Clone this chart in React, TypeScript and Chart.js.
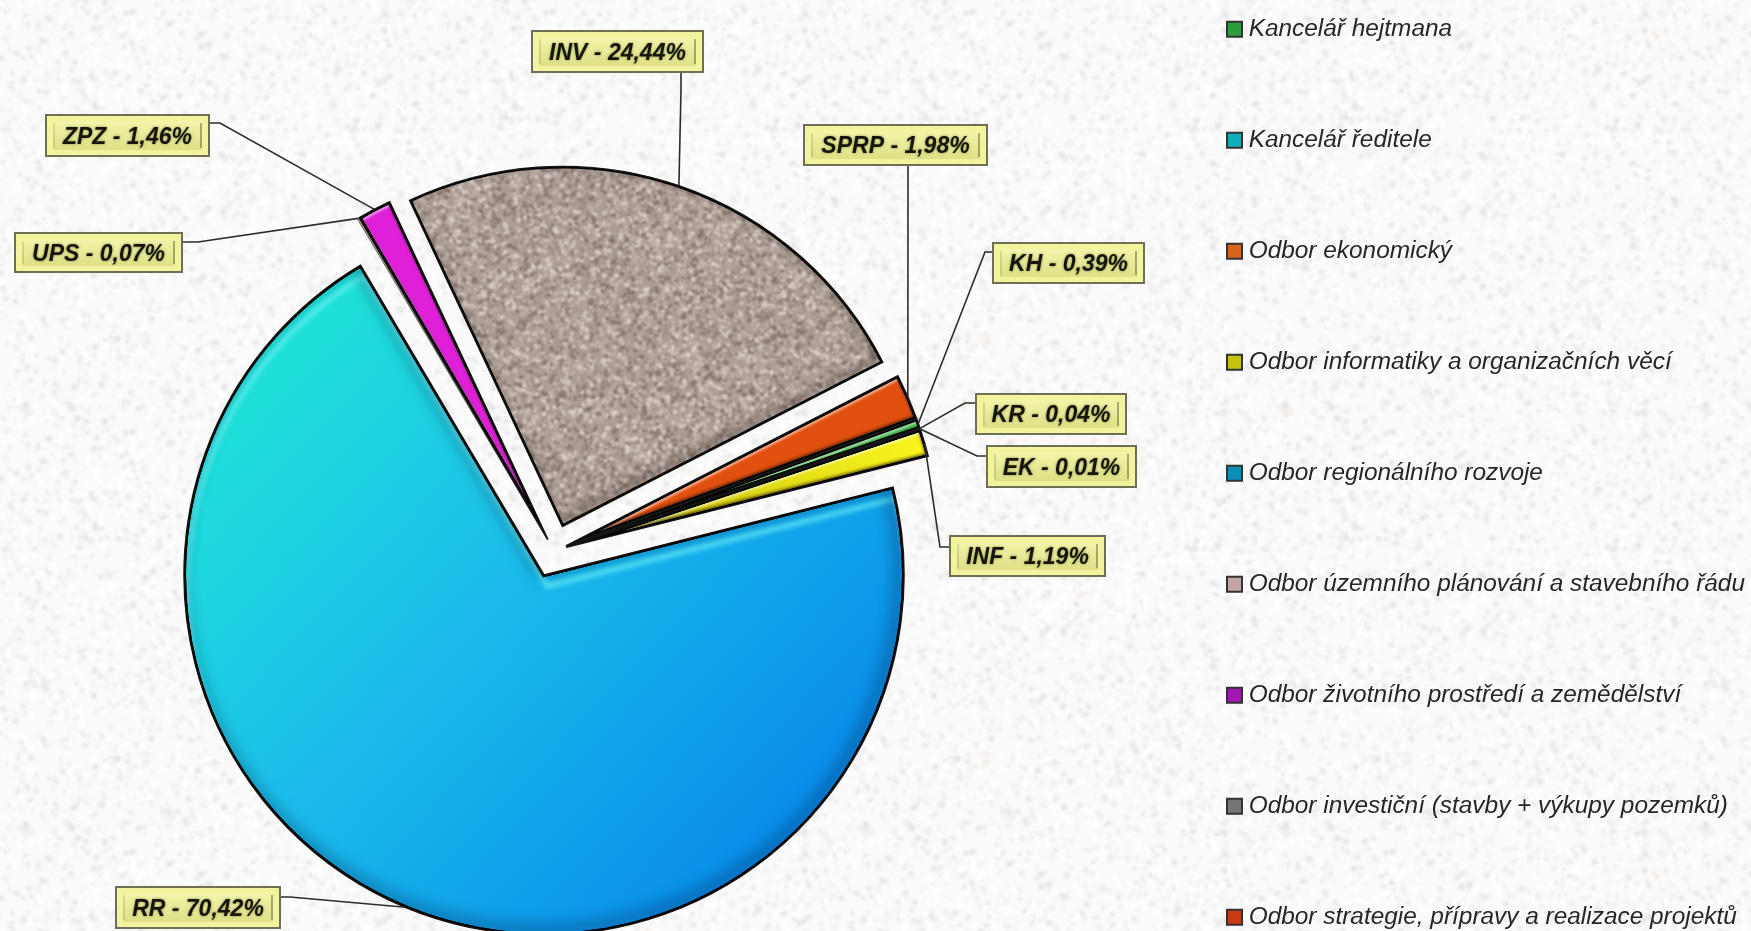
import React, { useEffect, useRef } from "react";
import { Chart, registerables } from "chart.js";

Chart.register(...registerables);

// ---- data
const departments = [
  "Kancelář hejtmana",
  "Kancelář ředitele",
  "Odbor ekonomický",
  "Odbor informatiky a organizačních věcí",
  "Odbor regionálního rozvoje",
  "Odbor územního plánování a stavebního řádu",
  "Odbor životního prostředí a zemědělství",
  "Odbor investiční (stavby + výkupy pozemků)",
  "Odbor strategie, přípravy a realizace projektů",
];
const codes = ["KH", "KR", "EK", "INF", "RR", "UPS", "ZPZ", "INV", "SPRP"];
const shares = [0.39, 0.04, 0.01, 1.19, 70.42, 0.07, 1.46, 24.44, 1.98];

// ---- styles
const legendColors = ["#2c9c3c", "#12aeb8", "#d8641c", "#c4c410", "#0a90b8", "#c4a4a4", "#a018b0", "#777474", "#c83a14"];
const sliceColors = ["#35ad45", "#14b0b8", "#e0601a", "#f2ee14", "#1aa8e8", "#c8a8a8", "#e020d8", "#b0a096", "#e2500f"];
// slice pull-out and rim growth, in pixels
const explode = [13, 13, 13, 13, 26, 13, 13, 26, 13];
const rimGrow = [13, 13, 13, 13, 0, 13, 13, 0, 13];
// callout boxes: x, y, w, h, elbow x, elbow y, box-side x, box-side y
const callouts = [
  [993, 243, 151, 40, 985, 252, 993, 252],
  [976, 394, 150, 40, 965, 403, 976, 403],
  [987, 446, 149, 41, 977, 456, 987, 456],
  [950, 536, 155, 40, 940, 547, 950, 547],
  [116, 887, 164, 41, 290, 897, 280, 897],
  [15, 233, 167, 39, 198, 242, 182, 242],
  [46, 115, 163, 41, 220, 123, 209, 123],
  [532, 31, 171, 41, 681, 90, 681, 72],
  [804, 125, 183, 40, 908, 200, 908, 165],
];
const pieCentre = { x: 554, y: 551 };
const legendSpot = { x: 1232.5, firstTop: 17, rowHeight: 111, fontSize: 24.4 };

function lcg(seed: number) {
  let s = seed >>> 0;
  return () => {
    s = (Math.imul(s, 1664525) + 1013904223) >>> 0;
    return s / 4294967296;
  };
}

function speckle(size: number, base: string, spots: string[], count: number, maxR: number, blur: number, seed: number) {
  const raw = document.createElement("canvas");
  raw.width = raw.height = size;
  const c = raw.getContext("2d")!;
  c.fillStyle = base;
  c.fillRect(0, 0, size, size);
  const rnd = lcg(seed);
  for (let i = 0; i < count; i++) {
    const x = rnd() * size, y = rnd() * size, r = 0.6 + rnd() * maxR;
    c.fillStyle = spots[Math.floor(rnd() * spots.length)];
    for (const [dx, dy] of [[0, 0], [size, 0], [-size, 0], [0, size], [0, -size]]) {
      c.beginPath();
      c.arc(x + dx, y + dy, r, 0, Math.PI * 2);
      c.fill();
    }
  }
  // blur a 3x3 repeat so the tile has no seams
  const wide = document.createElement("canvas");
  wide.width = wide.height = size * 3;
  const w = wide.getContext("2d")!;
  for (let a = 0; a < 3; a++) for (let b = 0; b < 3; b++) w.drawImage(raw, a * size, b * size);
  const out = document.createElement("canvas");
  out.width = out.height = size;
  const o = out.getContext("2d")!;
  o.filter = `blur(${blur}px)`;
  o.drawImage(wide, -size, -size);
  o.filter = "none";
  return out;
}

function slicePath(ctx: CanvasRenderingContext2D, el: any) {
  ctx.beginPath();
  ctx.moveTo(el.x, el.y);
  ctx.arc(el.x, el.y, el.outerRadius, el.startAngle, el.endAngle);
  ctx.closePath();
}

const placePlugin = {
  id: "place",
  afterLayout(chart: any) {
    const area = chart.chartArea;
    area.left = 0;
    area.right = pieCentre.x * 2;
    area.top = 0;
    area.bottom = pieCentre.y * 2;
    area.width = area.right;
    area.height = area.bottom;
    const legend = chart.legend;
    const pad = legendSpot.rowHeight - legendSpot.fontSize;
    legend.left = legendSpot.x - pad;
    legend.right = legend.left + 900;
    legend.top = legendSpot.firstTop - pad;
    legend.bottom = legend.top + 1400;
  },
};

const explodePlugin = {
  id: "explodeSlices",
  afterDatasetsUpdate(chart: any) {
    chart.getDatasetMeta(0).data.forEach((el: any, i: number) => {
      const mid = (el.startAngle + el.endAngle) / 2;
      el.x += Math.cos(mid) * explode[i];
      el.y += Math.sin(mid) * explode[i];
      el.outerRadius += rimGrow[i];
    });
  },
};

const paperPlugin = {
  id: "paper",
  beforeDraw(chart: any) {
    const { ctx, width, height } = chart;
    const tile = speckle(420, "#fafafa", ["#eaeae9", "#eeeeed", "#e4e4e3", "#f3efec", "#ffffff", "#ffffff", "#ffffff"], 4200, 2.6, 1.4, 7);
    ctx.save();
    ctx.fillStyle = ctx.createPattern(tile, "repeat");
    ctx.fillRect(0, 0, width, height);
    ctx.restore();
  },
};

const bevelPlugin = {
  id: "bevel",
  afterDatasetsDraw(chart: any) {
    const { ctx } = chart;
    chart.getDatasetMeta(0).data.forEach((el: any, i: number) => {
      const sweep = el.endAngle - el.startAngle;
      const big = sweep > 0.5;
      const isMain = codes[i] === "RR";
      const tiny = sweep < 0.01;
      if (!tiny) {
        ctx.save();
        slicePath(ctx, el);
        ctx.clip();
        slicePath(ctx, el);
        ctx.lineWidth = 4;
        ctx.strokeStyle = "#000";
        // light edge facing up-left
        if (!big || isMain) {
          ctx.shadowColor = isMain ? "rgba(110,250,255,0.9)" : "rgba(255,255,255,0.5)";
          ctx.shadowBlur = isMain ? 5 : 2;
          ctx.shadowOffsetX = isMain ? 3 : 1.5;
          ctx.shadowOffsetY = isMain ? 11 : 2;
          ctx.stroke();
        }
        // dark edge facing down-right
        if (sweep > 0.05) {
          slicePath(ctx, el);
          ctx.shadowColor = isMain ? "rgba(0,10,40,0.9)" : "rgba(20,10,5,0.6)";
          ctx.shadowBlur = isMain ? 16 : big ? 8 : 3;
          ctx.shadowOffsetX = big ? -4 : -1;
          ctx.shadowOffsetY = big ? -4 : -1.5;
          ctx.stroke();
        }
        ctx.restore();
      }
      ctx.save();
      slicePath(ctx, el);
      ctx.lineJoin = "miter";
      ctx.lineWidth = tiny ? 0.6 : 1.5;
      ctx.strokeStyle = "#141414";
      ctx.stroke();
      ctx.restore();
    });
  },
};

const calloutPlugin = {
  id: "callouts",
  afterDatasetsDraw(chart: any) {
    const { ctx } = chart;
    const arcs = chart.getDatasetMeta(0).data;
    codes.forEach((code, i) => {
      const [bx, by, bw, bh, ex, ey, sx, sy] = callouts[i];
      const el = arcs[i];
      const mid = (el.startAngle + el.endAngle) / 2;
      const ax = el.x + Math.cos(mid) * el.outerRadius;
      const ay = el.y + Math.sin(mid) * el.outerRadius;
      ctx.save();
      ctx.strokeStyle = "#2c2c2c";
      ctx.lineWidth = 1.6;
      ctx.beginPath();
      ctx.moveTo(ax, ay);
      ctx.lineTo(ex, ey);
      ctx.lineTo(sx, sy);
      ctx.stroke();

      ctx.fillStyle = "#f1f39d";
      ctx.fillRect(bx, by, bw, bh);
      const shade = ctx.createLinearGradient(0, by, 0, by + bh);
      shade.addColorStop(0, "rgba(255,255,200,0.5)");
      shade.addColorStop(1, "rgba(190,195,90,0.45)");
      ctx.fillStyle = shade;
      ctx.fillRect(bx + 7, by + 6, bw - 14, bh - 12);
      ctx.strokeStyle = "#6f6f55";
      ctx.lineWidth = 2;
      ctx.strokeRect(bx, by, bw, bh);
      ctx.strokeStyle = "rgba(90,95,50,0.35)";
      ctx.lineWidth = 1;
      ctx.beginPath();
      ctx.moveTo(bx + 8, by + 8);
      ctx.lineTo(bx + 8, by + bh - 8);
      ctx.stroke();
      ctx.strokeStyle = "rgba(60,65,30,0.8)";
      ctx.beginPath();
      ctx.moveTo(bx + bw - 8, by + 8);
      ctx.lineTo(bx + bw - 8, by + bh - 8);
      ctx.stroke();

      ctx.font = 'italic bold 23px "Liberation Sans"';
      ctx.textAlign = "center";
      ctx.textBaseline = "middle";
      ctx.fillStyle = "#15150a";
      ctx.shadowColor = "rgba(60,60,10,0.55)";
      ctx.shadowBlur = 3;
      ctx.fillText(`${code} - ${shares[i].toFixed(2).replace(".", ",")}%`, bx + bw / 2, by + bh / 2 + 2);
      ctx.restore();
    });
  },
};

export default function App() {
  const ref = useRef<HTMLCanvasElement>(null);
  useEffect(() => {
    const canvas = ref.current!;
    const ctx = canvas.getContext("2d")!;
    const rrFill = ctx.createLinearGradient(270, 300, 860, 860);
    rrFill.addColorStop(0, "#1fe6d6");
    rrFill.addColorStop(0.4, "#1cc0ea");
    rrFill.addColorStop(1, "#0584ea");
    const infFill = ctx.createLinearGradient(640, 540, 930, 450);
    infFill.addColorStop(0, "#c8c40c");
    infFill.addColorStop(1, "#fbf61e");
    const grain = ctx.createPattern(
      speckle(300, "#ac9c93", ["#8c7d75", "#cdc1ba", "#bcafa7", "#807169", "#ddd3cd"], 9000, 1.7, 0.8, 31),
      "repeat"
    );
    const fills: any[] = [...sliceColors];
    fills[3] = infFill;
    fills[4] = rrFill;
    fills[7] = grain;

    const chart = new Chart(canvas, {
      type: "pie",
      data: {
        labels: departments,
        datasets: [
          {
            data: shares,
            backgroundColor: fills,
            borderWidth: 0,
            clip: false,
          } as any,
        ],
      },
      plugins: [placePlugin, explodePlugin, paperPlugin, bevelPlugin, calloutPlugin],
      options: {
        responsive: false,
        devicePixelRatio: 1,
        animation: false,
        events: [],
        radius: 360,
        rotation: 70,
        plugins: {
          tooltip: { enabled: false },
          legend: {
            position: "right",
            align: "start",
            labels: {
              usePointStyle: true,
              pointStyle: "rect",
              boxWidth: 4,
              boxHeight: 15,
              padding: legendSpot.rowHeight - legendSpot.fontSize,
              color: "#262626",
              font: { family: '"Liberation Sans"', size: legendSpot.fontSize, style: "italic" },
              generateLabels: () =>
                departments.map((text, i) => ({
                  text,
                  fillStyle: legendColors[i],
                  strokeStyle: "#333333",
                  lineWidth: 2,
                  pointStyle: "rect",
                  hidden: false,
                  index: i,
                  fontColor: "#262626",
                })),
            },
          },
        },
      } as any,
    } as any);
    return () => chart.destroy();
  }, []);
  return (
    <div style={{ position: "absolute", left: 0, top: 0, width: 1751, height: 931, overflow: "hidden" }}>
      <canvas ref={ref} width={1751} height={931} style={{ display: "block" }} />
    </div>
  );
}
